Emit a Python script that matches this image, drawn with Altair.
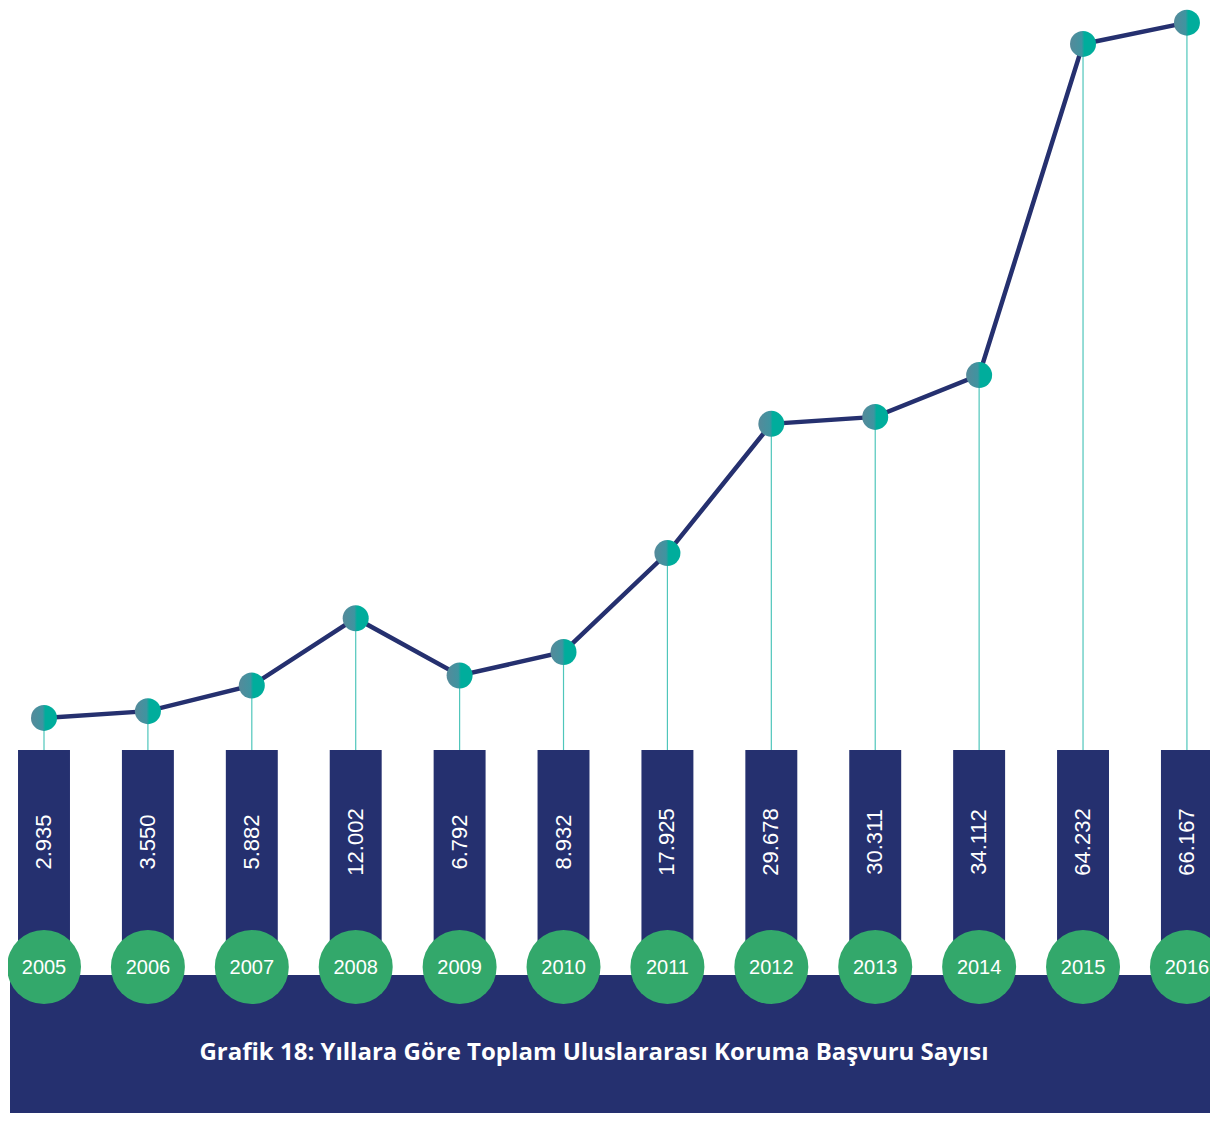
import altair as alt
import pandas as pd

years = ["2005", "2006", "2007", "2008", "2009", "2010", "2011", "2012", "2013", "2014", "2015", "2016"]
values = [2935, 3550, 5882, 12002, 6792, 8932, 17925, 29678, 30311, 34112, 64232, 66167]
labels = ["2.935", "3.550", "5.882", "12.002", "6.792", "8.932", "17.925", "29.678", "30.311", "34.112", "64.232", "66.167"]
title_text = "Grafik 18: Yıllara Göre Toplam Uluslararası Koruma Başvuru Sayısı"

W, H = 1202, 1105
NAVY = "#25306f"
GREEN = "#33a86b"
TEAL = "#4fc6bb"
NARROW = "'Liberation Sans Narrow', 'Liberation Sans', sans-serif"

df = pd.DataFrame({"year": years, "value": values, "label": labels, "i": list(range(len(years)))})
df["x0"] = df["i"] - 0.25
df["x1"] = df["i"] + 0.25

xs = alt.Scale(domain=[-0.3465, 11.222], nice=False, zero=False)
ys = alt.Scale(domain=[-33000, 67500], nice=False, zero=False)
xenc = alt.X("i:Q", scale=xs, axis=None)
yenc = alt.Y("value:Q", scale=ys, axis=None)

base = alt.Chart(df)

rules = base.mark_rule(color=TEAL, strokeWidth=1.2).encode(
    x=xenc, y=yenc, y2=alt.value(742)
)
line = base.mark_line(color=NAVY, strokeWidth=4.5).encode(x=xenc, y=yenc)
grad = alt.Gradient(
    gradient="linear", x1=0, x2=1, y1=0, y2=0,
    stops=[
        alt.GradientStop(color="#558a9a", offset=0),
        alt.GradientStop(color="#3f94a0", offset=0.45),
        alt.GradientStop(color="#00ad9c", offset=0.55),
        alt.GradientStop(color="#00ad9c", offset=1),
    ],
)
points = base.mark_point(filled=True, size=676, shape="circle", fill=grad, opacity=1, strokeWidth=0).encode(
    x=xenc, y=yenc
)
bars = base.mark_rect(color=NAVY).encode(
    x=alt.X("x0:Q", scale=xs, axis=None), x2="x1:Q",
    y=alt.value(742), y2=alt.value(967)
)
band_df = pd.DataFrame({"t": [title_text]})
band = alt.Chart(band_df).mark_rect(color=NAVY).encode(
    x=alt.value(2), x2=alt.value(W), y=alt.value(967), y2=alt.value(H)
)
circles = base.mark_point(filled=True, shape="circle", size=5476, color=GREEN, opacity=1, strokeWidth=0).encode(
    x=xenc, y=alt.value(959)
)
year_text = base.mark_text(color="white", font=NARROW, fontSize=20, baseline="middle", align="center", dy=1).encode(
    x=xenc, y=alt.value(959), text="year:N"
)
val_text = base.mark_text(color="white", font=NARROW, fontSize=22, angle=270, baseline="middle", align="center").encode(
    x=xenc, y=alt.value(834), text="label:N"
)
title = alt.Chart(band_df).mark_text(color="white", font="Open Sans", fontWeight="bold", fontSize=24, align="center", baseline="middle").encode(
    x=alt.value(586), y=alt.value(1045), text="t:N"
)

chart = alt.layer(rules, line, points, bars, band, circles, year_text, val_text, title).properties(
    width=W, height=H, autosize=alt.AutoSizeParams(type="none"), padding=0
).configure_view(stroke=None)

chart.save("out.html", embed_options={"renderer": "svg", "actions": False})
